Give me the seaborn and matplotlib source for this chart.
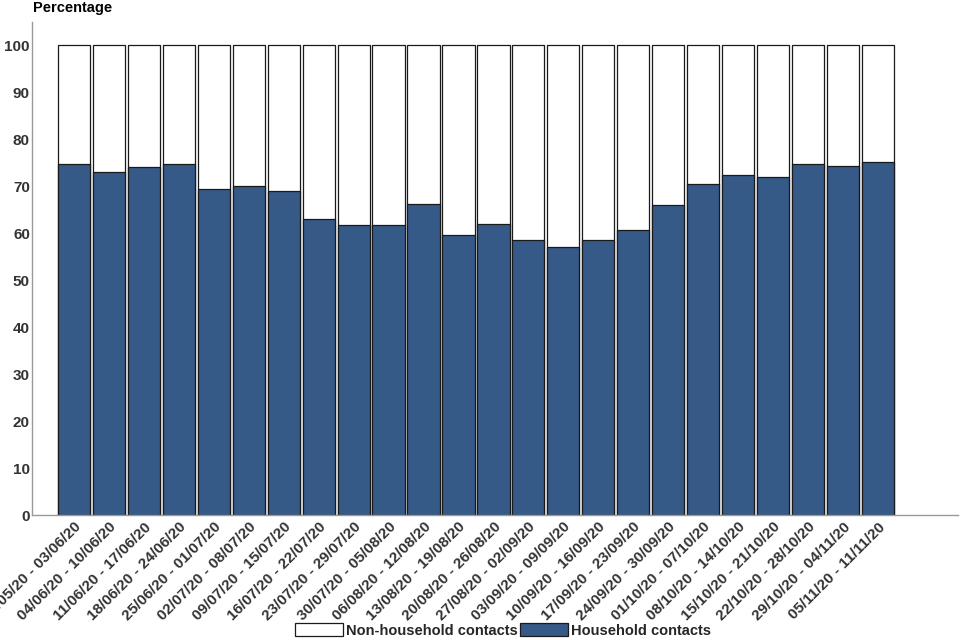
import numpy as np
import pandas as pd
import matplotlib
matplotlib.use("Agg")
import matplotlib.pyplot as plt
import seaborn as sns
from matplotlib.patches import Patch

weeks = [
    "28/05/20 - 03/06/20", "04/06/20 - 10/06/20", "11/06/20 - 17/06/20",
    "18/06/20 - 24/06/20", "25/06/20 - 01/07/20", "02/07/20 - 08/07/20",
    "09/07/20 - 15/07/20", "16/07/20 - 22/07/20", "23/07/20 - 29/07/20",
    "30/07/20 - 05/08/20", "06/08/20 - 12/08/20", "13/08/20 - 19/08/20",
    "20/08/20 - 26/08/20", "27/08/20 - 02/09/20", "03/09/20 - 09/09/20",
    "10/09/20 - 16/09/20", "17/09/20 - 23/09/20", "24/09/20 - 30/09/20",
    "01/10/20 - 07/10/20", "08/10/20 - 14/10/20", "15/10/20 - 21/10/20",
    "22/10/20 - 28/10/20", "29/10/20 - 04/11/20", "05/11/20 - 11/11/20",
]
household = [74.8, 73.1, 74.1, 74.8, 69.4, 70.1, 69.0, 63.1, 61.8, 61.8, 66.2, 59.6,
             62.0, 58.5, 57.1, 58.5, 60.8, 66.0, 70.5, 72.4, 72.0, 74.8, 74.4, 75.1]
non_household = [round(100 - h, 1) for h in household]

df = pd.DataFrame({"week": weeks, "household": household, "non_household": non_household})
df["total"] = df["household"] + df["non_household"]

sns.set_style("white")
plt.rcParams["font.family"] = ["Liberation Sans", "DejaVu Sans"]

blue = "#365a88"
fig = plt.figure(figsize=(9.6, 6.4), dpi=100)
ax = fig.add_axes([0.0333, 0.1953, 0.965, 0.7703])

# stacked: full bar (white, non-household) then household drawn over it
sns.barplot(data=df, x="week", y="total", color="white", edgecolor="#1a1a1a",
            linewidth=0.9, width=0.92, saturation=1, ax=ax)
sns.barplot(data=df, x="week", y="household", color=blue, edgecolor="#1a1a1a",
            linewidth=0.9, width=0.92, saturation=1, ax=ax)

ax.set_ylim(0, 105)
ax.set_xlim(-1.2, 25.3)
ax.set_yticks(np.arange(0, 101, 10))
ax.set_xlabel("")
ax.set_ylabel("")
for s in ["top", "right"]:
    ax.spines[s].set_visible(False)
for s in ["left", "bottom"]:
    ax.spines[s].set_color("#999999")
    ax.spines[s].set_linewidth(1)

ax.tick_params(axis="both", length=0, labelsize=11, colors="#333333")
ax.tick_params(axis="y", pad=1.5)
for lab in ax.get_yticklabels():
    lab.set_fontweight("bold")
ax.set_xticks(range(len(weeks)))
ax.set_xticklabels(weeks, rotation=45, ha="right", rotation_mode="anchor",
                   fontweight="bold", fontsize=11, color="#333333")

fig.text(0.034, 0.987, "Percentage", fontsize=10.5, fontweight="bold", color="black",
         ha="left", va="center")

handles = [Patch(facecolor="white", edgecolor="#1a1a1a", linewidth=0.9),
           Patch(facecolor=blue, edgecolor="#1a1a1a", linewidth=0.9)]
fig.legend(handles, ["Non-household contacts", "Household contacts"], ncol=2,
           loc="lower center", bbox_to_anchor=(0.524, -0.017), frameon=False,
           handlelength=3.3, handleheight=1.0, handletextpad=0.2, columnspacing=0.2,
           prop={"weight": "bold", "size": 10.5})

fig.savefig("out.png", dpi=100)
